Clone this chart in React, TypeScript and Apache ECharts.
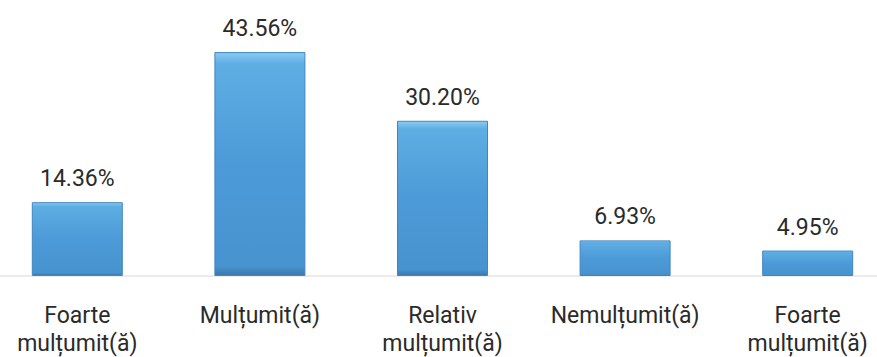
import React, { useEffect, useRef } from "react";
import * as echarts from "echarts";

const categories = [
  "Foarte\nmulțumit(ă)",
  "Mulțumit(ă)",
  "Relativ\nmulțumit(ă)",
  "Nemulțumit(ă)",
  "Foarte\nmulțumit(ă)",
];
const values = [14.36, 43.56, 30.2, 6.93, 4.95];

export default function App() {
  const ref = useRef<HTMLDivElement>(null);
  useEffect(() => {
    document.body.style.margin = "0";
    document.body.style.overflow = "hidden";
    if (!ref.current) return;
    const chart = echarts.init(ref.current, null, { renderer: "svg" });
    chart.setOption({
      animation: false,
      grid: { left: 0, right: 0, top: 19, bottom: 81, containLabel: false },
      xAxis: {
        type: "category",
        data: categories,
        axisLine: { show: true, lineStyle: { color: "#ebebeb", width: 2 } },
        axisTick: { show: false },
        axisLabel: {
          interval: 0,
          margin: 25,
          fontFamily: "Roboto",
          fontSize: 23,
          lineHeight: 28,
          color: "#2a2a2a",
          verticalAlign: "top",
        },
      },
      yAxis: {
        type: "value",
        min: 0,
        max: 50,
        show: false,
        splitLine: { show: false },
      },
      series: [
        {
          type: "bar",
          data: values,
          barWidth: 91,
          itemStyle: {
            color: new echarts.graphic.LinearGradient(0, 0, 0, 1, [
              { offset: 0, color: "#8ccaf2" },
              { offset: 0.05, color: "#5eaee4" },
              { offset: 0.5, color: "#4c9ad7" },
              { offset: 0.96, color: "#4793d0" },
              { offset: 1, color: "#3b78aa" },
            ]),
            borderColor: "#4186bf",
            borderWidth: 1,
          },
          label: {
            show: true,
            position: "top",
            distance: 12,
            formatter: (p: any) => p.value.toFixed(2) + "%",
            fontFamily: "Roboto",
            fontSize: 23,
            color: "#2a2a2a",
          },
        },
      ],
    });
    return () => chart.dispose();
  }, []);
  return (
    <div style={{ width: 877, height: 357, overflow: "hidden", position: "relative" }}>
      <div ref={ref} style={{ width: 913, height: 357, position: "absolute", left: -14, top: 0 }} />
    </div>
  );
}
